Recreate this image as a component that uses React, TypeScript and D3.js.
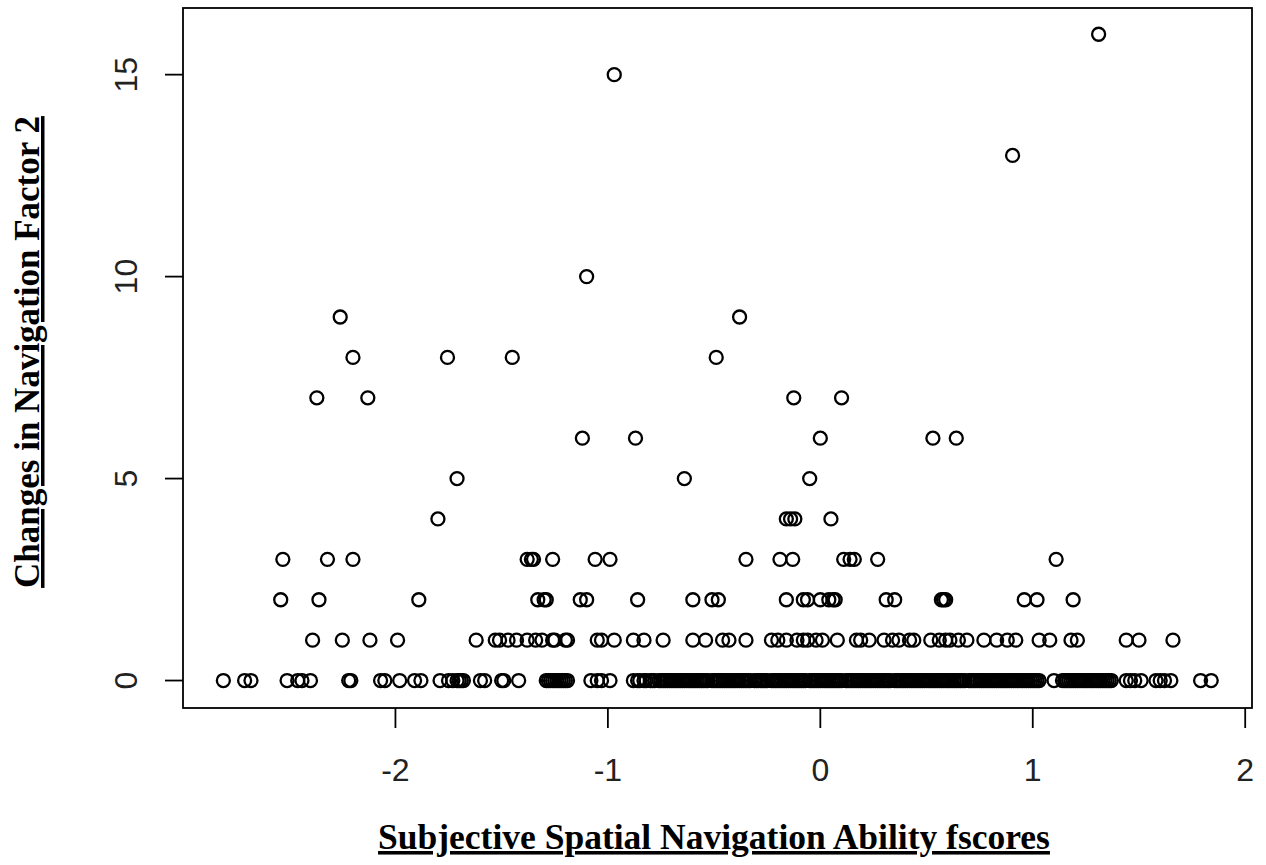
import React from 'react';
import * as d3 from 'd3';

// fscores of participants, grouped by their change score (y value)
const xAt0: number[] = [
  -2.81, -2.71, -2.68, -2.51, -2.46, -2.44, -2.40, -2.22, -2.21, -2.07, -2.05, -1.98, -1.91, -1.88,
  -1.79, -1.75, -1.73, -1.71, -1.70, -1.69, -1.68, -1.60, -1.58, -1.50, -1.49, -1.42, -1.29, -1.28,
  -1.27, -1.26, -1.25, -1.24, -1.23, -1.22, -1.21, -1.20, -1.19, -1.08, -1.05, -1.03, -0.99,
  -0.88, -0.86, -0.85, -0.83, -0.82, -0.80, -0.79, -0.78, -0.76, -0.75, -0.74, -0.73, -0.72, -0.71,
  -0.70, -0.69, -0.68, -0.67, -0.66, -0.65, -0.64, -0.63, -0.62, -0.61, -0.60, -0.59, -0.58, -0.57,
  -0.56, -0.55, -0.54, -0.53, -0.51, -0.50, -0.49, -0.48, -0.47, -0.46, -0.45, -0.44, -0.43, -0.42,
  -0.41, -0.40, -0.39, -0.38, -0.37, -0.36, -0.35, -0.34, -0.33, -0.31, -0.30, -0.29, -0.28, -0.27,
  -0.26, -0.25, -0.23, -0.22, -0.21, -0.20, -0.19, -0.18, -0.17, -0.16, -0.15, -0.14, -0.13, -0.12,
  -0.11, -0.10, -0.09, -0.08, -0.07, -0.05, -0.04, -0.03, -0.02, -0.01, 0.0, 0.01, 0.02, 0.03, 0.04,
  0.05, 0.06, 0.07, 0.08, 0.09, 0.10, 0.12, 0.13, 0.14, 0.15, 0.16, 0.17, 0.18, 0.19, 0.20, 0.21,
  0.22, 0.23, 0.24, 0.25, 0.26, 0.27, 0.28, 0.29, 0.30, 0.31, 0.32, 0.33, 0.35, 0.36, 0.37, 0.38,
  0.39, 0.40, 0.41, 0.42, 0.43, 0.44, 0.45, 0.46, 0.47, 0.48, 0.49, 0.50, 0.51, 0.52, 0.53, 0.54,
  0.55, 0.56, 0.57, 0.58, 0.59, 0.60, 0.61, 0.62, 0.63, 0.64, 0.65, 0.66, 0.67, 0.68, 0.70, 0.71,
  0.72, 0.73, 0.74, 0.75, 0.76, 0.77, 0.78, 0.79, 0.80, 0.81, 0.82, 0.83, 0.84, 0.85, 0.86, 0.87,
  0.88, 0.89, 0.90, 0.91, 0.92, 0.93, 0.94, 0.95, 0.96, 0.97, 0.98, 0.99, 1.00, 1.01, 1.02, 1.03,
  1.10, 1.14, 1.15, 1.16, 1.17, 1.18, 1.19, 1.20, 1.21, 1.22, 1.23, 1.24, 1.25, 1.26, 1.27, 1.28,
  1.29, 1.30, 1.31, 1.32, 1.33, 1.34, 1.35, 1.36, 1.37, 1.44, 1.46, 1.48, 1.51, 1.58, 1.60, 1.62,
  1.65, 1.79, 1.84,
];
const xAt1: number[] = [
  -2.39, -2.25, -2.12, -1.99, -1.62, -1.53, -1.51, -1.47, -1.43, -1.38, -1.34, -1.31, -1.26, -1.25,
  -1.20, -1.19, -1.05, -1.03, -0.97, -0.88, -0.83, -0.74, -0.60, -0.54, -0.46, -0.43, -0.35, -0.23,
  -0.20, -0.16, -0.11, -0.08, -0.06, -0.02, 0.01, 0.08, 0.17, 0.19, 0.23, 0.30, 0.34, 0.37, 0.42,
  0.44, 0.52, 0.56, 0.59, 0.61, 0.65, 0.69, 0.77, 0.83, 0.88, 0.92, 1.03, 1.08, 1.18, 1.21, 1.44,
  1.50, 1.66,
];
const xAt2: number[] = [
  -2.54, -2.36, -1.89, -1.33, -1.30, -1.29, -1.13, -1.10, -0.86, -0.60, -0.51, -0.48, -0.16, -0.08,
  -0.06, 0.0, 0.04, 0.06, 0.07, 0.31, 0.35, 0.57, 0.58, 0.59, 0.96, 1.02, 1.19,
];
const xAt3: number[] = [
  -2.53, -2.32, -2.20, -1.38, -1.36, -1.35, -1.26, -1.06, -0.99, -0.35, -0.19, -0.13, 0.11, 0.14,
  0.16, 0.27, 1.11,
];
const xAt4: number[] = [-1.8, -0.16, -0.14, -0.12, 0.05];
const xAt5: number[] = [-1.71, -0.64, -0.05];
const xAt6: number[] = [-1.12, -0.87, 0.0, 0.53, 0.64];
const xAt7: number[] = [-2.37, -2.13, -0.125, 0.1];
const xAt8: number[] = [-2.2, -1.755, -1.45, -0.49];
const xAt9: number[] = [-2.26, -0.38];
const xAt10: number[] = [-1.1];
const xAt13: number[] = [0.905];
const xAt15: number[] = [-0.97];
const xAt16: number[] = [1.31];

const rows: [number, number[]][] = [
  [0, xAt0], [1, xAt1], [2, xAt2], [3, xAt3], [4, xAt4], [5, xAt5], [6, xAt6], [7, xAt7],
  [8, xAt8], [9, xAt9], [10, xAt10], [13, xAt13], [15, xAt15], [16, xAt16],
];

const xTicks = [-2, -1, 0, 1, 2];
const yTicks = [0, 5, 10, 15];

const W = 1266;
const H = 865;
const left = 183;
const right = 1252;
const top = 8;
const bottom = 708;

const sans = '"Liberation Sans", Arial, sans-serif';
const serif = '"Liberation Serif", "Times New Roman", serif';

export default function App() {
  const x = d3.scaleLinear().domain([-3.0, 2.032]).range([left, right]);
  const y = d3.scaleLinear().domain([-0.68, 16.65]).range([bottom, top]);

  const points = rows.flatMap(([v, xs]) => xs.map((xv) => ({ x: xv, y: v })));

  return (
    <svg
      width={W}
      height={H}
      style={{ position: 'absolute', left: 0, top: 0, background: '#fff' }}
    >
      <g>
        {points.map((p, i) => (
          <circle
            key={i}
            cx={x(p.x)}
            cy={y(p.y)}
            r={6.5}
            fill="none"
            stroke="#000"
            strokeWidth={2.3}
          />
        ))}
      </g>
      <rect
        x={left}
        y={top}
        width={right - left}
        height={bottom - top}
        fill="none"
        stroke="#000"
        strokeWidth={1.8}
      />
      {/* x axis */}
      {xTicks.map((t) => (
        <g key={'x' + t}>
          <line x1={x(t)} x2={x(t)} y1={bottom} y2={bottom + 20} stroke="#000" strokeWidth={1.8} />
          <text
            x={x(t)}
            y={781}
            textAnchor="middle"
            fontFamily={sans}
            fontSize={32}
            fill="#222"
          >
            {t}
          </text>
        </g>
      ))}
      {/* y axis */}
      {yTicks.map((t) => (
        <g key={'y' + t}>
          <line x1={left - 18} x2={left} y1={y(t)} y2={y(t)} stroke="#000" strokeWidth={1.8} />
          <text
            transform={`translate(137,${y(t)}) rotate(-90)`}
            textAnchor="middle"
            fontFamily={sans}
            fontSize={32}
            fill="#222"
          >
            {t}
          </text>
        </g>
      ))}
      <text
        x={714}
        y={849}
        textAnchor="middle"
        fontFamily={serif}
        fontWeight="bold"
        fontSize={35.5}
        textDecoration="underline"
        fill="#000"
      >
        Subjective Spatial Navigation Ability fscores
      </text>
      <text
        transform={`translate(39,352) rotate(-90)`}
        textAnchor="middle"
        fontFamily={serif}
        fontWeight="bold"
        fontSize={35}
        textDecoration="underline"
        fill="#000"
      >
        Changes in Navigation Factor 2
      </text>
    </svg>
  );
}
